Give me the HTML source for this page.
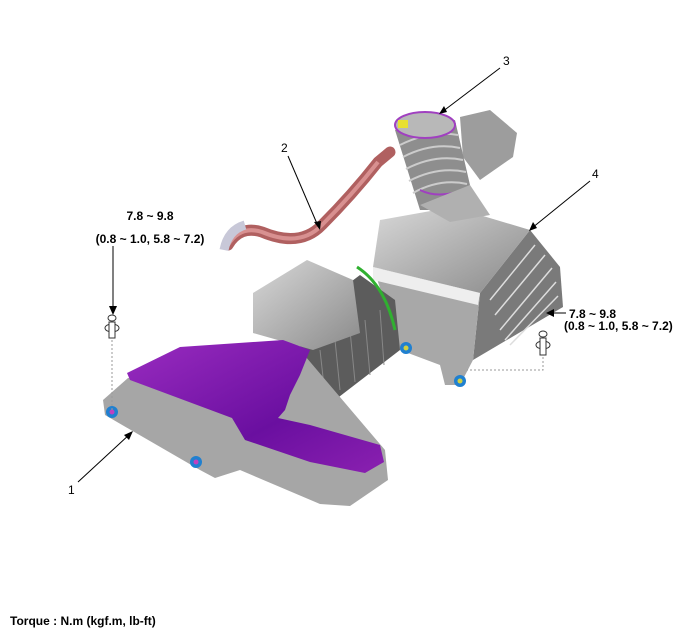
<!DOCTYPE html>
<html><head><style>
body{margin:0;background:#fff;}
svg{display:block;font-family:"Liberation Sans",Arial,sans-serif;}
</style></head><body>
<svg width="700" height="640" viewBox="0 0 700 640">
<defs>
<linearGradient id="g1" x1="0" y1="0" x2="1" y2="1"><stop offset="0" stop-color="#d8d8d8"/><stop offset="1" stop-color="#8a8a8a"/></linearGradient>
<linearGradient id="pu" x1="0" y1="0" x2="1" y2="1"><stop offset="0" stop-color="#9a2cc0"/><stop offset="0.6" stop-color="#6a0fa0"/><stop offset="1" stop-color="#8a20b0"/></linearGradient>
</defs>
<polygon points="530,230 560,267 563,307 473,360 480,293" fill="#7a7a7a"/>
<g stroke="#ddd" stroke-width="1.5">
<line x1="490" y1="300" x2="535" y2="245"/><line x1="495" y1="315" x2="545" y2="255"/><line x1="500" y1="330" x2="552" y2="268"/><line x1="505" y1="340" x2="556" y2="282"/><line x1="510" y1="345" x2="558" y2="296"/>
</g>
<polygon points="373,267 480,293 473,360 460,385 445,385 440,365 400,350 393,327" fill="#a8a8a8"/>
<polygon points="380,220 453,207 530,230 480,293 373,267" fill="url(#g1)"/>
<polygon points="373,267 480,293 478,305 373,280" fill="#eee"/>
<polygon points="460,117 490,110 517,133 513,157 480,180 463,157" fill="#9d9d9d"/>
<polygon points="395,130 455,120 470,185 440,210 420,210" fill="#8e8e8e"/>
<g stroke="#ccc" stroke-width="2" fill="none">
<path d="M400,145 Q430,130 458,135"/><path d="M403,157 Q432,142 460,148"/><path d="M406,169 Q435,154 463,160"/><path d="M409,181 Q438,166 466,172"/><path d="M413,193 Q440,178 467,184"/>
</g>
<ellipse cx="425" cy="125" rx="30" ry="13" fill="#b8b8b8" stroke="#a040c0" stroke-width="2"/>
<rect x="398" y="120" width="10" height="8" fill="#e8e030"/>
<path d="M420,190 Q440,200 468,188" stroke="#a040c0" stroke-width="2" fill="none"/>
<polygon points="420,205 470,185 490,215 450,222" fill="#b0b0b0"/>
<path d="M228,245 Q240,225 262,232 Q300,248 322,225 Q352,195 378,162 L390,152" stroke="#b06060" stroke-width="11" fill="none" stroke-linecap="round"/>
<path d="M228,245 Q240,225 262,232 Q300,248 322,225 Q352,195 378,162" stroke="#d89090" stroke-width="4" fill="none"/>
<path d="M224,250 Q228,230 245,225" stroke="#c8c8d8" stroke-width="9" fill="none"/>
<polygon points="300,320 360,275 395,300 400,350 335,400 300,370" fill="#5c5c5c"/>
<g stroke="#888" stroke-width="1"><line x1="320" y1="350" x2="325" y2="395"/><line x1="335" y1="340" x2="340" y2="390"/><line x1="350" y1="330" x2="355" y2="382"/><line x1="365" y1="320" x2="370" y2="375"/><line x1="380" y1="310" x2="384" y2="365"/></g>
<path d="M357,267 Q385,285 395,330" stroke="#30b030" stroke-width="3" fill="none"/>
<polygon points="253,293 307,260 353,280 360,333 313,350 253,333" fill="url(#g1)"/>
<polygon points="103,400 128,378 300,350 385,450 388,480 350,506 320,504 240,470 215,478 200,470 105,415" fill="#a6a6a6"/>
<polygon points="127,373 180,347 283,340 310,350 300,375 290,395 285,410 278,418 310,425 380,445 384,462 365,473 310,462 245,440 232,418 130,380" fill="url(#pu)"/>
<circle cx="112" cy="412" r="6" fill="#2080d0"/><circle cx="112" cy="412" r="2.5" fill="#c040c0"/>
<circle cx="196" cy="462" r="6" fill="#2080d0"/><circle cx="196" cy="462" r="2.5" fill="#c040c0"/>
<circle cx="406" cy="348" r="6" fill="#2080d0"/><circle cx="406" cy="348" r="2.5" fill="#d0d040"/>
<circle cx="460" cy="381" r="6" fill="#2080d0"/><circle cx="460" cy="381" r="2.5" fill="#d0d040"/>
<g fill="#fff" stroke="#333" stroke-width="1">
<ellipse cx="112" cy="318" rx="4" ry="3"/><ellipse cx="112" cy="328" rx="7" ry="4"/><rect x="109" y="322" width="6" height="16"/>
<ellipse cx="543" cy="334" rx="4" ry="3"/><ellipse cx="543" cy="345" rx="7" ry="4"/><rect x="540" y="338" width="6" height="17"/>
</g>
<g stroke="#999" stroke-dasharray="2,2" fill="none"><line x1="112" y1="340" x2="112" y2="410"/><polyline points="543,357 543,370 467,370"/></g>
<g stroke="#000" stroke-width="1">
<line x1="78" y1="482" x2="130" y2="434"/><line x1="288" y1="156" x2="318" y2="226"/><line x1="500" y1="68" x2="442" y2="112"/><line x1="590" y1="181" x2="532" y2="228"/>
<line x1="113" y1="246" x2="113" y2="310"/><line x1="566" y1="313" x2="550" y2="313"/>
</g>
<g fill="#000">
<polygon points="133,431 124,435 129,440"/><polygon points="320,230 314,222 321,221"/><polygon points="439,114 444,106 447,112"/><polygon points="529,231 533,222 537,228"/>
<polygon points="113,315 109,306 117,306"/><polygon points="546,313 554,309 554,317"/>
</g>
<g font-size="12" fill="#000">
<text x="68" y="494">1</text><text x="281" y="152">2</text><text x="503" y="65">3</text><text x="592" y="178">4</text>
</g>
<g font-size="12" font-weight="bold" fill="#000">
<text x="150" y="220" text-anchor="middle">7.8 ~ 9.8</text>
<text x="150" y="243" text-anchor="middle">(0.8 ~ 1.0, 5.8 ~ 7.2)</text>
<text x="569" y="318">7.8 ~ 9.8</text>
<text x="564" y="330">(0.8 ~ 1.0, 5.8 ~ 7.2)</text>
<text x="10" y="625">Torque : N.m (kgf.m, lb-ft)</text>
</g>
</svg>
</body></html>
